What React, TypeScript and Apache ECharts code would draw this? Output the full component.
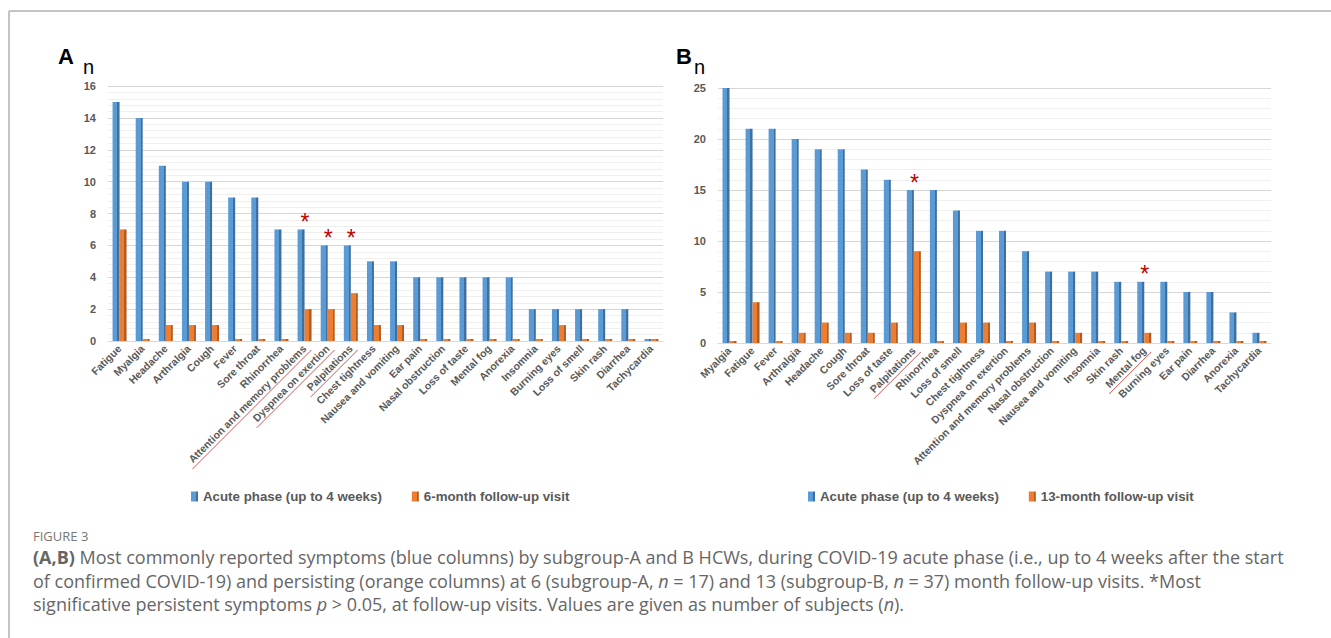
import React, { useEffect, useRef } from "react";
import * as echarts from "echarts";

const categoriesA = [
  "Fatigue", "Myalgia", "Headache", "Arthralgia", "Cough", "Fever", "Sore throat", "Rhinorrhea",
  "Attention and memory problems", "Dyspnea on exertion", "Palpitations", "Chest tightness",
  "Nausea and vomiting", "Ear pain", "Nasal obstruction", "Loss of taste", "Mental fog", "Anorexia",
  "Insomnia", "Burning eyes", "Loss of smell", "Skin rash", "Diarrhea", "Tachycardia",
];
const acuteA = [15, 14, 11, 10, 10, 9, 9, 7, 7, 6, 6, 5, 5, 4, 4, 4, 4, 4, 2, 2, 2, 2, 2, 0];
const followA = [7, 0, 1, 1, 1, 0, 0, 0, 2, 2, 3, 1, 1, 0, 0, 0, 0, 0, 0, 1, 0, 0, 0, 0];
const starredA = ["Attention and memory problems", "Dyspnea on exertion", "Palpitations"];

const categoriesB = [
  "Myalgia", "Fatigue", "Fever", "Arthralgia", "Headache", "Cough", "Sore throat", "Loss of taste",
  "Palpitations", "Rhinorrhea", "Loss of smell", "Chest tightness", "Dyspnea on exertion",
  "Attention and memory problems", "Nasal obstruction", "Nausea and vomiting", "Insomnia", "Skin rash",
  "Mental fog", "Burning eyes", "Ear pain", "Diarrhea", "Anorexia", "Tachycardia",
];
const acuteB = [25, 21, 21, 20, 19, 19, 17, 16, 15, 15, 13, 11, 11, 9, 7, 7, 7, 6, 6, 6, 5, 5, 3, 1];
const followB = [0, 4, 0, 1, 2, 1, 1, 2, 9, 0, 2, 2, 0, 2, 0, 1, 0, 0, 1, 0, 0, 0, 0, 0];
const starredB = ["Palpitations", "Mental fog"];

const legendAcute = "Acute phase (up to 4 weeks)";
const legendFollowA = "6-month follow-up visit";
const legendFollowB = "13-month follow-up visit";

const LABEL_FONT = "'Liberation Sans', Arial, sans-serif";
const LABEL_SIZE = 10.5;
const CAPTION_FONT = "'Open Sans', Lato, sans-serif";
const CAPTION_SIZE = 18;

const blueFill = new echarts.graphic.LinearGradient(0, 0, 1, 0, [
  { offset: 0, color: "#5b9bd5" },
  { offset: 0.7, color: "#5b9bd5" },
  { offset: 0.7, color: "#3f6f9e" },
  { offset: 1, color: "#3f6f9e" },
]);
const orangeFill = new echarts.graphic.LinearGradient(0, 0, 1, 0, [
  { offset: 0, color: "#ed7d31" },
  { offset: 0.7, color: "#ed7d31" },
  { offset: 0.7, color: "#b05c22" },
  { offset: 1, color: "#b05c22" },
]);

function starData(values: number[], cats: string[], starred: string[]) {
  return values.map((v, i) =>
    starred.includes(cats[i])
      ? {
          value: v,
          label: {
            show: true,
            position: "top",
            distance: 0,
            offset: [4, 4],
            formatter: "*",
            color: "#c00000",
            fontSize: 23,
            fontFamily: "'Liberation Sans', Arial, sans-serif",
          },
        }
      : v
  );
}

export default function App() {
  const ref = useRef<HTMLDivElement>(null);
  useEffect(() => {
    if (!ref.current) return;
    const chart = echarts.init(ref.current, null, { renderer: "svg" });

    const axisCommon = (cats: string[], gridIndex: number) => ({
      type: "category",
      gridIndex,
      data: cats,
      axisTick: { show: false },
      axisLine: { lineStyle: { color: "#d9d9d9" } },
      axisLabel: {
        interval: 0,
        rotate: 45,
        margin: 6,
        color: "#595959",
        fontWeight: "bold",
        fontSize: LABEL_SIZE,
        fontFamily: LABEL_FONT,
      },
    });
    const yCommon = (gridIndex: number, max: number, interval: number) => ({
      type: "value",
      gridIndex,
      min: 0,
      max,
      interval,
      axisLine: { show: false },
      axisTick: { show: false },
      axisLabel: {
        color: "#595959",
        fontWeight: "bold",
        fontSize: 11,
        margin: 12,
        fontFamily: "'Liberation Sans', Arial, sans-serif",
      },
      splitLine: { lineStyle: { color: "#d6d6d6" } },
      minorTick: { show: false, splitNumber: 5 },
      minorSplitLine: { show: true, lineStyle: { color: "#efefef" } },
    });

    const legendText = { color: "#595959", fontWeight: "bold", fontSize: 13.3, fontFamily: LABEL_FONT };

    const captionRich = {
      b: { fontWeight: "bold", fontSize: CAPTION_SIZE, fontFamily: CAPTION_FONT, fill: "#666666" },
      i: { fontStyle: "italic", fontSize: CAPTION_SIZE, fontFamily: CAPTION_FONT, fill: "#666666" },
    };
    const captionFont = `${CAPTION_SIZE}px ${CAPTION_FONT}`;

    const baseGraphic: any[] = [
      { type: "line", shape: { x1: 9, y1: 11, x2: 1331, y2: 11 }, style: { stroke: "#c4c4c4", lineWidth: 2 } },
      { type: "line", shape: { x1: 9, y1: 11, x2: 9, y2: 638 }, style: { stroke: "#c4c4c4", lineWidth: 2 } },
      { type: "text", left: 58, top: 45, style: { text: "A", font: "bold 22px 'Liberation Sans', Arial, sans-serif", fill: "#000" } },
      { type: "text", left: 83, top: 57, style: { text: "n", font: "20px 'Liberation Sans', Arial, sans-serif", fill: "#000" } },
      { type: "text", left: 676, top: 45, style: { text: "B", font: "bold 22px 'Liberation Sans', Arial, sans-serif", fill: "#000" } },
      { type: "text", left: 694, top: 57, style: { text: "n", font: "20px 'Liberation Sans', Arial, sans-serif", fill: "#000" } },
      { type: "text", left: 33, top: 529, style: { text: "FIGURE 3", font: `13px ${CAPTION_FONT}`, fill: "#777777" } },
      {
        type: "text",
        left: 33,
        top: 548,
        style: {
          text: "{b|(A,B)} Most commonly reported symptoms (blue columns) by subgroup-A and B HCWs, during COVID-19 acute phase (i.e., up to 4 weeks after the start",
          font: captionFont,
          fill: "#666666",
          rich: captionRich,
        },
      },
      {
        type: "text",
        left: 33,
        top: 572,
        style: {
          text: "of confirmed COVID-19) and persisting (orange columns) at 6 (subgroup-A, {i|n} = 17) and 13 (subgroup-B, {i|n} = 37) month follow-up visits. *Most",
          font: captionFont,
          fill: "#666666",
          rich: captionRich,
        },
      },
      {
        type: "text",
        left: 33,
        top: 595,
        style: {
          text: "significative persistent symptoms {i|p} > 0.05, at follow-up visits. Values are given as number of subjects ({i|n}).",
          font: captionFont,
          fill: "#666666",
          rich: captionRich,
        },
      },
    ];

    const option: any = {
      animation: false,
      backgroundColor: "#ffffff",
      grid: [
        { left: 108, top: 86, width: 555, height: 255 },
        { left: 718, top: 88, width: 553, height: 255 },
      ],
      xAxis: [axisCommon(categoriesA, 0), axisCommon(categoriesB, 1)],
      yAxis: [yCommon(0, 16, 2), yCommon(1, 25, 5)],
      legend: [
        {
          left: 186,
          top: 485,
          data: [legendAcute, legendFollowA],
          icon: "rect",
          itemWidth: 7,
          itemHeight: 10,
          itemGap: 30,
          selectedMode: false,
          textStyle: legendText,
        },
        {
          left: 803,
          top: 485,
          data: [legendAcute, legendFollowB],
          icon: "rect",
          itemWidth: 7,
          itemHeight: 10,
          itemGap: 30,
          selectedMode: false,
          textStyle: legendText,
        },
      ],
      series: [
        {
          name: legendAcute, type: "bar", xAxisIndex: 0, yAxisIndex: 0, barWidth: 7, barGap: "0%",
          barMinHeight: 2, itemStyle: { color: blueFill }, data: starData(acuteA, categoriesA, starredA),
        },
        {
          name: legendFollowA, type: "bar", xAxisIndex: 0, yAxisIndex: 0, barWidth: 7, barGap: "0%",
          barMinHeight: 2, itemStyle: { color: orangeFill }, data: followA,
        },
        {
          name: legendAcute, type: "bar", xAxisIndex: 1, yAxisIndex: 1, barWidth: 7, barGap: "0%",
          barMinHeight: 2, itemStyle: { color: blueFill }, data: starData(acuteB, categoriesB, starredB),
        },
        {
          name: legendFollowB, type: "bar", xAxisIndex: 1, yAxisIndex: 1, barWidth: 7, barGap: "0%",
          barMinHeight: 2, itemStyle: { color: orangeFill }, data: followB,
        },
      ],
      graphic: baseGraphic,
    };
    chart.setOption(option);

    // red underlines beneath starred category labels
    const canvas = document.createElement("canvas");
    const ctx = canvas.getContext("2d");
    const underlines: any[] = [];
    const addUnderlines = (cats: string[], starred: string[], axisIndex: number) => {
      starred.forEach((name) => {
        const idx = cats.indexOf(name);
        const x = chart.convertToPixel({ xAxisIndex: axisIndex }, idx) as unknown as number;
        const y0 = chart.convertToPixel({ yAxisIndex: axisIndex }, 0) as unknown as number;
        let L = name.length * 5;
        if (ctx) {
          ctx.font = `bold ${LABEL_SIZE}px ${LABEL_FONT}`;
          L = ctx.measureText(name).width;
        }
        const c = Math.SQRT1_2;
        const ax = x;
        const ay = y0 + 6;
        const d = 7;
        underlines.push({
          type: "line",
          shape: {
            x1: ax + c * d + 2,
            y1: ay + c * d - 2,
            x2: ax - c * (L + 4) + c * d,
            y2: ay + c * (L + 4) + c * d,
          },
          style: { stroke: "#d9534f", lineWidth: 1 },
        });
      });
    };
    addUnderlines(categoriesA, starredA, 0);
    addUnderlines(categoriesB, starredB, 1);
    chart.setOption({ graphic: [...baseGraphic, ...underlines] });

    return () => chart.dispose();
  }, []);
  return (
    <div
      ref={ref}
      style={{ position: "absolute", left: 0, top: 0, width: 1331, height: 638, background: "#fff" }}
    />
  );
}
